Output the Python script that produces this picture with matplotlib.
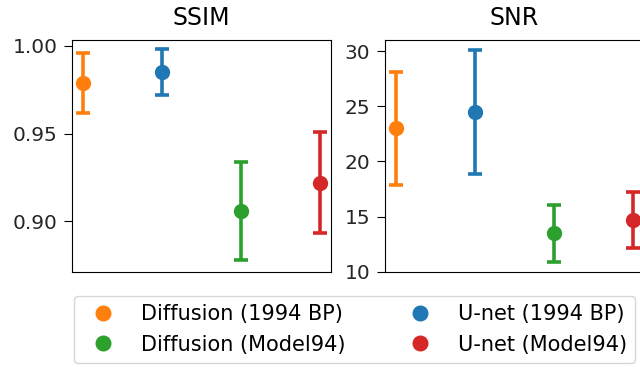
import numpy as np
import matplotlib.pyplot as plt
from matplotlib.lines import Line2D

methods = ['Diffusion (1994 BP)', 'U-net (1994 BP)', 'Diffusion (Model94)', 'U-net (Model94)']
colors = ['tab:orange', 'tab:blue', 'tab:green', 'tab:red']

ssim_mean = [0.979, 0.985, 0.906, 0.922]
ssim_err = [0.017, 0.013, 0.028, 0.029]
snr_mean = [23.0, 24.5, 13.5, 14.7]
snr_err = [5.1, 5.6, 2.6, 2.5]

fig = plt.figure(figsize=(6.4, 3.67), dpi=100)
ax1 = fig.add_axes([0.1125, 0.259, 0.405, 0.632])
ax2 = fig.add_axes([0.6016, 0.259, 0.405, 0.632])

for ax, mean, err, title in [(ax1, ssim_mean, ssim_err, 'SSIM'), (ax2, snr_mean, snr_err, 'SNR')]:
    for i in range(len(methods)):
        ax.errorbar(i, mean[i], yerr=err[i], fmt='o', color=colors[i], ms=10,
                    elinewidth=2.6, capsize=4.8, capthick=2.6)
    ax.set_xlim(-0.14, 3.14)
    ax.set_xticks([])
    ax.set_title(title, fontsize=17, pad=11)
    ax.tick_params(labelsize=14.5, length=5.5, pad=5, labelcolor='#262626')

ax1.set_ylim(0.871, 1.0034)
ax1.set_yticks([0.90, 0.95, 1.00])
ax2.set_ylim(10, 31)
ax2.set_yticks([10, 15, 20, 25, 30])

handles = [Line2D([], [], marker='o', ls='', color=colors[i], ms=10.5) for i in [0, 2, 1, 3]]
labels = [methods[i] for i in [0, 2, 1, 3]]
fig.legend(handles, labels, ncol=2, loc='upper left', bbox_to_anchor=(0.1156, 0.1935),
           fontsize=15, borderaxespad=0, columnspacing=2.6, labelspacing=0.5)

fig.savefig('out.png', dpi=100)
